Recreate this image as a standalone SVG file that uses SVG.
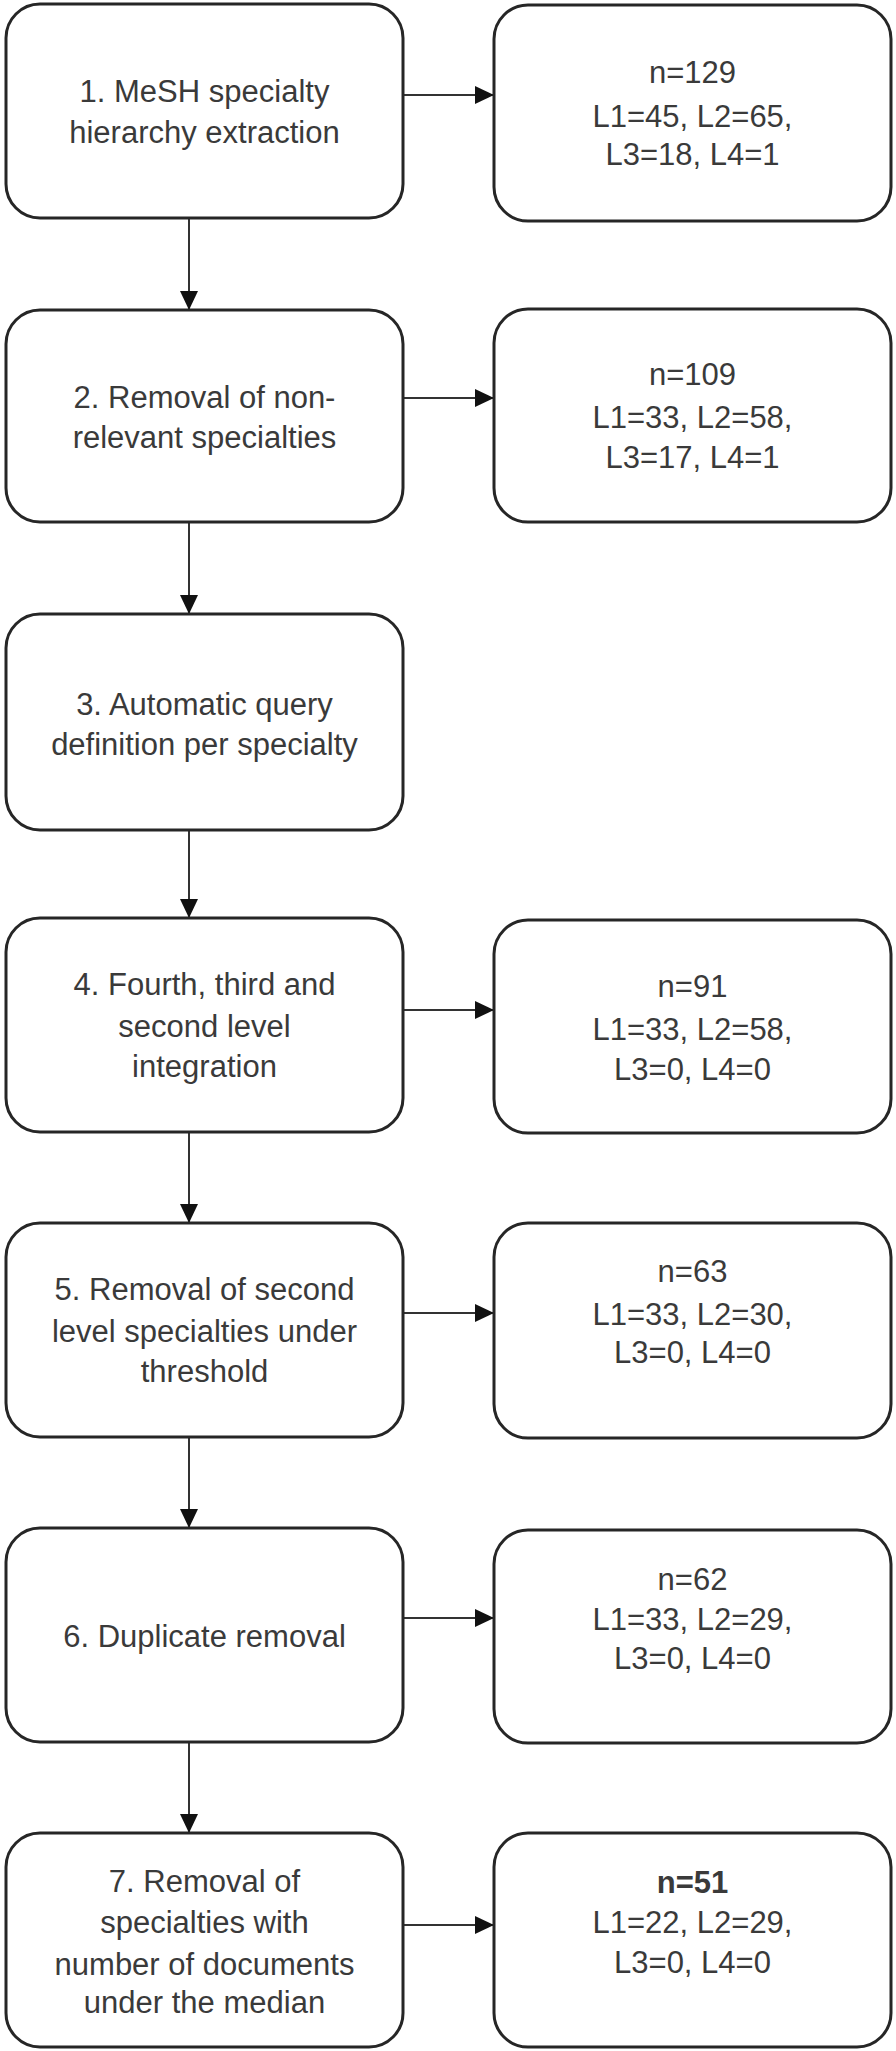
<svg xmlns="http://www.w3.org/2000/svg" width="896" height="2051" viewBox="0 0 896 2051">
<style>
.box{fill:#fff;stroke:#262626;stroke-width:3}
.t{font-family:"Liberation Sans",Arial,sans-serif;font-size:31px;fill:#3a3a3a;text-anchor:middle}
.b{font-weight:bold}
.c{stroke:#333;stroke-width:2;fill:none;marker-end:url(#ah)}
</style>
<defs>
<marker id="ah" markerUnits="userSpaceOnUse" markerWidth="20" markerHeight="18" refX="19" refY="9" orient="auto">
<path d="M0,0 L19,9 L0,18 Z" fill="#111"/>
</marker>
</defs>
<rect width="896" height="2051" fill="#fff"/>
<g id="connectors">
<line class="c" x1="404" y1="95" x2="494" y2="95"/>
<line class="c" x1="404" y1="398" x2="494" y2="398"/>
<line class="c" x1="404" y1="1010" x2="494" y2="1010"/>
<line class="c" x1="404" y1="1313" x2="494" y2="1313"/>
<line class="c" x1="404" y1="1618" x2="494" y2="1618"/>
<line class="c" x1="404" y1="1925" x2="494" y2="1925"/>
<line class="c" x1="189" y1="219" x2="189" y2="310"/>
<line class="c" x1="189" y1="523" x2="189" y2="614"/>
<line class="c" x1="189" y1="831" x2="189" y2="918"/>
<line class="c" x1="189" y1="1133" x2="189" y2="1223"/>
<line class="c" x1="189" y1="1438" x2="189" y2="1528"/>
<line class="c" x1="189" y1="1743" x2="189" y2="1833"/>
</g>
<g id="n1"><rect class="box" x="6" y="4" width="397" height="214" rx="34"/>
<text class="t" x="204.5" y="102">1. MeSH specialty</text>
<text class="t" x="204.5" y="143">hierarchy extraction</text></g>
<g id="r1"><rect class="box" x="494" y="5" width="397" height="216" rx="34"/>
<text class="t" x="692.5" y="83">n=129</text>
<text class="t" x="692.5" y="127">L1=45, L2=65,</text>
<text class="t" x="692.5" y="165">L3=18, L4=1</text></g>
<g id="n2"><rect class="box" x="6" y="310" width="397" height="212" rx="34"/>
<text class="t" x="204.5" y="408">2. Removal of non-</text>
<text class="t" x="204.5" y="448">relevant specialties</text></g>
<g id="r2"><rect class="box" x="494" y="309" width="397" height="213" rx="34"/>
<text class="t" x="692.5" y="385">n=109</text>
<text class="t" x="692.5" y="428">L1=33, L2=58,</text>
<text class="t" x="692.5" y="468">L3=17, L4=1</text></g>
<g id="n3"><rect class="box" x="6" y="614" width="397" height="216" rx="34"/>
<text class="t" x="204.5" y="715">3. Automatic query</text>
<text class="t" x="204.5" y="755">definition per specialty</text></g>
<g id="n4"><rect class="box" x="6" y="918" width="397" height="214" rx="34"/>
<text class="t" x="204.5" y="995">4. Fourth, third and</text>
<text class="t" x="204.5" y="1037">second level</text>
<text class="t" x="204.5" y="1077">integration</text></g>
<g id="r4"><rect class="box" x="494" y="920" width="397" height="213" rx="34"/>
<text class="t" x="692.5" y="997">n=91</text>
<text class="t" x="692.5" y="1040">L1=33, L2=58,</text>
<text class="t" x="692.5" y="1080">L3=0, L4=0</text></g>
<g id="n5"><rect class="box" x="6" y="1223" width="397" height="214" rx="34"/>
<text class="t" x="204.5" y="1300">5. Removal of second</text>
<text class="t" x="204.5" y="1342">level specialties under</text>
<text class="t" x="204.5" y="1382">threshold</text></g>
<g id="r5"><rect class="box" x="494" y="1223" width="397" height="215" rx="34"/>
<text class="t" x="692.5" y="1282">n=63</text>
<text class="t" x="692.5" y="1325">L1=33, L2=30,</text>
<text class="t" x="692.5" y="1363">L3=0, L4=0</text></g>
<g id="n6"><rect class="box" x="6" y="1528" width="397" height="214" rx="34"/>
<text class="t" x="204.5" y="1647">6. Duplicate removal</text></g>
<g id="r6"><rect class="box" x="494" y="1530" width="397" height="213" rx="34"/>
<text class="t" x="692.5" y="1590">n=62</text>
<text class="t" x="692.5" y="1630">L1=33, L2=29,</text>
<text class="t" x="692.5" y="1669">L3=0, L4=0</text></g>
<g id="n7"><rect class="box" x="6" y="1833" width="397" height="214" rx="34"/>
<text class="t" x="204.5" y="1892">7. Removal of</text>
<text class="t" x="204.5" y="1933">specialties with</text>
<text class="t" x="204.5" y="1975">number of documents</text>
<text class="t" x="204.5" y="2013">under the median</text></g>
<g id="r7"><rect class="box" x="494" y="1833" width="397" height="214" rx="34"/>
<text class="t b" x="692.5" y="1893">n=51</text>
<text class="t" x="692.5" y="1933">L1=22, L2=29,</text>
<text class="t" x="692.5" y="1973">L3=0, L4=0</text></g>
</svg>
